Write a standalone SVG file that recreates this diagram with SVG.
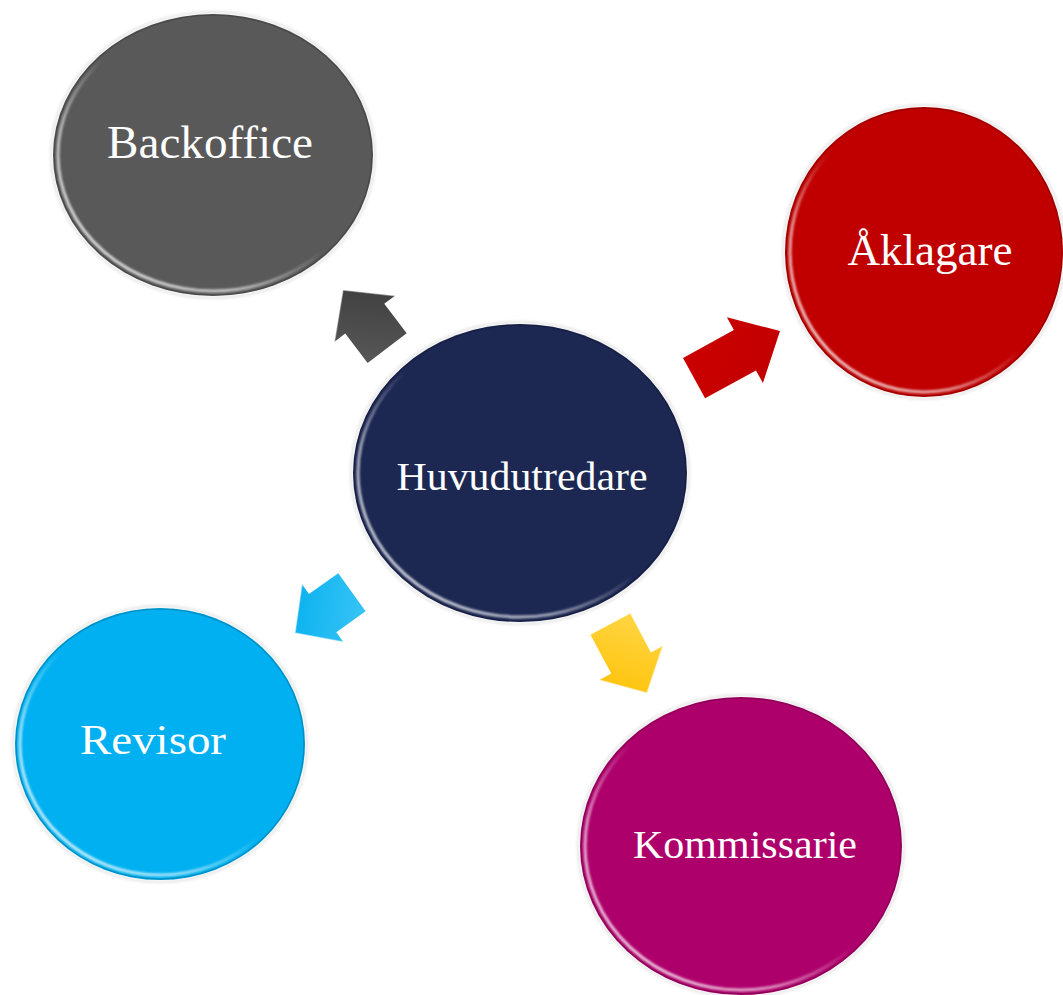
<svg xmlns="http://www.w3.org/2000/svg" width="1063" height="995" viewBox="0 0 1063 995">
<defs>
<style>
.lbl{font-family:"Liberation Serif","Times New Roman",serif;fill:#ffffff;text-anchor:middle}
.rim{fill:none;stroke:url(#rimHi);stroke-width:3;filter:url(#soft)}
.edge{fill:none;stroke:#000;stroke-opacity:0.18;stroke-width:1.5}
.halo{fill:none;stroke:#d9d9d9;stroke-opacity:0.5;stroke-width:3;filter:url(#soft)}
.arr-hi{fill:none;stroke:#ffffff;stroke-opacity:0.45;stroke-width:1.5;stroke-linejoin:round}
</style>
<linearGradient id="rimHi" x1="0" y1="1" x2="1" y2="0">
<stop offset="0" stop-color="#ffffff" stop-opacity="0.95"/>
<stop offset="0.3" stop-color="#ffffff" stop-opacity="0.6"/>
<stop offset="0.5" stop-color="#ffffff" stop-opacity="0"/>
<stop offset="0.85" stop-color="#ffffff" stop-opacity="0"/>
<stop offset="1" stop-color="#ffffff" stop-opacity="0.45"/>
</linearGradient>
<filter id="soft" x="-10%" y="-10%" width="120%" height="120%"><feGaussianBlur stdDeviation="1"/></filter>
<linearGradient id="gDark" x1="0" y1="0" x2="1" y2="1"><stop offset="0" stop-color="#5a5a5a"/><stop offset="1" stop-color="#3a3a3a"/></linearGradient>
<linearGradient id="gRed" x1="0" y1="0" x2="1" y2="1"><stop offset="0" stop-color="#cc0000"/><stop offset="1" stop-color="#c00000"/></linearGradient>
<linearGradient id="gBlue" x1="0" y1="0" x2="1" y2="1"><stop offset="0" stop-color="#3cc6f5"/><stop offset="1" stop-color="#00adee"/></linearGradient>
<linearGradient id="gYel" x1="0" y1="0" x2="1" y2="1"><stop offset="0" stop-color="#ffd84a"/><stop offset="1" stop-color="#ffbf00"/></linearGradient>
</defs>

<g id="connectors">
<g id="arrow-backoffice" transform="translate(343,290) rotate(232.8)">
<path d="M0,0 L-36,-38 L-36,-24.5 L-73,-24.5 L-73,24.5 L-36,24.5 L-36,38 Z" fill="url(#gDark)"/>
<path class="arr-hi" d="M-36,38 L0,0 L-36,-38"/>
</g>
<g id="arrow-aklagare" transform="translate(780,331) rotate(-28.7)">
<path d="M0,0 L-40,-37.5 L-40,-23 L-98,-23 L-98,23 L-40,23 L-40,37.5 Z" fill="url(#gRed)"/>
</g>
<g id="arrow-revisor" transform="translate(295,633) rotate(144.4)">
<path d="M0,0 L-34,-35.5 L-34,-23.5 L-70,-23.5 L-70,23.5 L-34,23.5 L-34,35.5 Z" fill="url(#gBlue)"/>
<path class="arr-hi" d="M-34,-35.5 L0,0 L-34,35.5"/>
</g>
<g id="arrow-kommissarie" transform="translate(647,693) rotate(62)">
<path d="M0,0 L-34,-36 L-34,-22.5 L-78,-22.5 L-78,22.5 L-34,22.5 L-34,36 Z" fill="url(#gYel)"/>
<path class="arr-hi" d="M-34,-36 L0,0 L-34,36"/>
</g>
</g>

<g id="node-backoffice">
<ellipse class="halo" cx="213" cy="155" rx="162" ry="143"/>
<ellipse cx="213" cy="155" rx="160" ry="141" fill="#595959"/>
<ellipse class="edge" cx="213" cy="155" rx="159" ry="140"/>
<ellipse class="rim" cx="213" cy="155" rx="155" ry="136"/>
<text class="lbl" x="210" y="158" font-size="46" textLength="206" lengthAdjust="spacingAndGlyphs">Backoffice</text>
</g>

<g id="node-aklagare">
<ellipse class="halo" cx="924" cy="252" rx="141" ry="147"/>
<ellipse cx="924" cy="252" rx="139" ry="145" fill="#c00000"/>
<ellipse class="edge" cx="924" cy="252" rx="138" ry="144"/>
<ellipse class="rim" cx="924" cy="252" rx="134" ry="140"/>
<text class="lbl" x="930" y="265" font-size="44" textLength="165" lengthAdjust="spacingAndGlyphs">Åklagare</text>
</g>

<g id="node-huvudutredare">
<ellipse class="halo" cx="520" cy="473" rx="169" ry="151"/>
<ellipse cx="520" cy="473" rx="167" ry="149" fill="#1c2752"/>
<ellipse class="edge" cx="520" cy="473" rx="166" ry="148"/>
<ellipse class="rim" cx="520" cy="473" rx="162" ry="144"/>
<text class="lbl" x="522" y="490" font-size="41" textLength="251" lengthAdjust="spacingAndGlyphs">Huvudutredare</text>
</g>

<g id="node-revisor">
<ellipse class="halo" cx="160" cy="744" rx="147" ry="138"/>
<ellipse cx="160" cy="744" rx="145" ry="136" fill="#00b0f0"/>
<ellipse class="edge" cx="160" cy="744" rx="144" ry="135"/>
<ellipse class="rim" cx="160" cy="744" rx="140" ry="131"/>
<text class="lbl" x="153" y="754" font-size="42" textLength="146" lengthAdjust="spacingAndGlyphs">Revisor</text>
</g>

<g id="node-kommissarie">
<ellipse class="halo" cx="741" cy="846" rx="163" ry="151"/>
<ellipse cx="741" cy="846" rx="161" ry="149" fill="#ae006b"/>
<ellipse class="edge" cx="741" cy="846" rx="160" ry="148"/>
<ellipse class="rim" cx="741" cy="846" rx="156" ry="144"/>
<text class="lbl" x="745" y="858" font-size="41" textLength="224" lengthAdjust="spacingAndGlyphs">Kommissarie</text>
</g>
</svg>
